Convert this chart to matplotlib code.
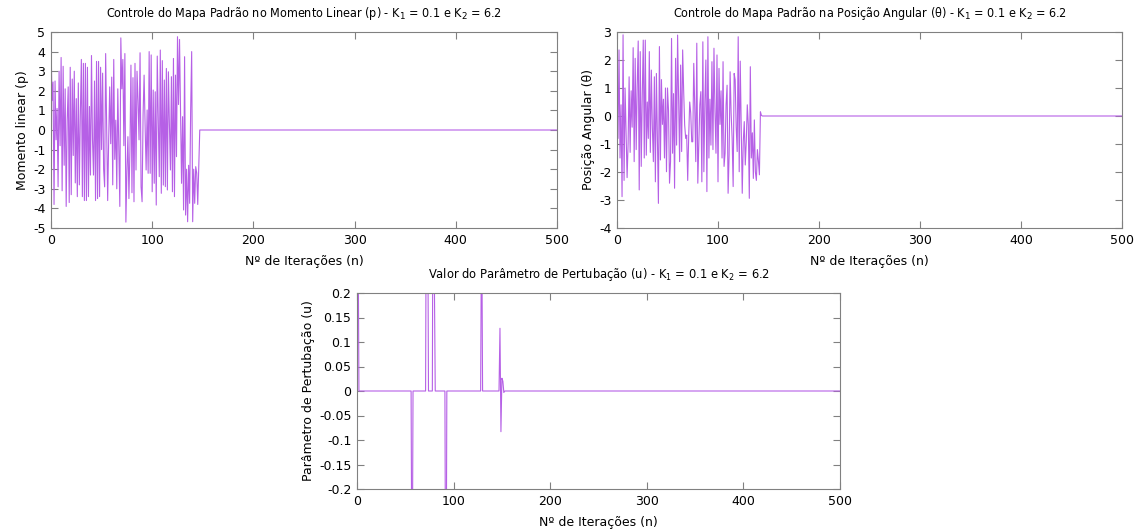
import numpy as np
import matplotlib
matplotlib.use("Agg")
import matplotlib.pyplot as plt
from matplotlib.ticker import MultipleLocator, FuncFormatter

plt.rcParams['axes.unicode_minus'] = False
plt.rcParams['font.family'] = ['DejaVu Sans']

N = 501  # iterations 0..500

# momento linear p (iterations 0..147), zero afterwards
p_active = [4.6, 1.5, 2.45, -3.8, 2.5, -0.5, 1.1, -2.9, 3.0, -0.8,
            3.7, -3.1, 3.25, -1.8, 2.1, -3.9, 0.5, 2.2, -3.7, 3.2,
            -3.3, 2.6, -1.3, 3.0, -2.7, 1.6, -3.4, 2.4, -2.8, 0.8,
            3.6, -3.4, 3.4, -3.6, 3.4, -3.6, 3.2, -3.4, 1.2, -2.3,
            3.8, -0.5, -2.3, 2.5, -3.6, 3.5, -3.5, 3.5, -3.4, 3.2,
            -1.0, 2.9, -2.0, -2.9, 3.9, 0.3, -3.6, -0.5, 2.2, -0.7,
            2.7, -2.8, 3.6, -1.5, 0.5, -3.0, 2.1, -1.0, -3.9, 4.7,
            2.1, 3.6, -0.8, 3.9, -4.7,
            -2.1, -0.34, -3.5, -1.0, 3.31, -3.2, 2.67, -3.66, 3.4, -2.04,
            3.0, 1.5, -0.5, 3.94, -2.89, -3.66, 0.8, 2.8, 0.2, -2.04,
            1.02, -2.21, 4.0, -2.21, 3.83, -3.15, 2.04, -2.72, 1.95, -3.83,
            3.77, 0.5, -2.38, 4.08, -3.23, 3.54, -2.81, 2.55, -2.89, 3.14,
            -3.06, 2.97, 0.3, -2.04, 2.72, -3.15, 3.65, -3.4, 2.8, -1.36,
            4.76, 1.3, 4.62, 1.0, -2.72, 0.68, -4.08, 3.74, -4.34, -2.0,
            -4.68, -1.8, -3.74, 1.0, 4.0, -4.68, -2.0, -3.74, -1.87, -2.2,
            -3.8, -1.8, 0.0]

# posicao angular theta
theta_active = [1.3, -0.8, 2.36, -1.5, 0.4,
                -2.88, 2.9, -2.3, 1.0, -0.6,
                -2.2, -0.98, 1.4, -1.3, 0.9, -0.4,
                2.44, -1.63, 2.06, -1.2, 1.1,
                2.68, -2.64, 2.3, -1.8, 0.7,
                2.71, -1.5, 2.71, -1.4, 0.5,
                -0.8, 2.3, -1.3, 1.64, -0.4,
                -1.63, 1.4, -2.35, 1.52, -0.9,
                -3.12, 2.48, -1.57, 1.3, -0.3, 0.6,
                -1.5, 1.0, -1.99, 1.0, 0.2,
                -2.4, -1.63, 2.77, -1.33, 0.8,
                -2.58, 2.06, -1.04, 2.89, 0.6,
                -1.63, 1.82, -1.27, 2.36, 0.9,
                -0.32, -0.8, -0.68, -2.3, -0.7, 0.5,
                0.1, -0.92, -0.92, 1.88, 0.3,
                -1.63, 2.6, -2.4, -1.04, 0.4,
                0.87, -2.35, 2.65, -1.99, 0.5,
                2.0, -2.7, 2.83, -1.5, 0.6,
                -1.04, 1.94, -1.2, 2.42, 0.2,
                -1.33, 2.18, -2.35, 1.7, -0.3, 0.9,
                -1.5, 1.94, -1.8, -1.33, 0.4,
                1.1, -2.76, -1.4, 1.58, 0.1,
                -0.8, -2.52, 1.52, 1.29, -0.4,
                -1.27, 2.83, -1.99, 1.96, -0.5,
                -2.76, -0.92, -0.2, -1.75, -0.9, 0.4,
                -0.32, -2.94, 1.76, -1.5, -0.6,
                -2.23, -0.14, -2.0, -2.3, -1.2,
                -1.6, -2.1, 0.15, 0.02]

# parametro de perturbacao u (nonzero only at a few iterations)
u_idx = [1, 57, 72, 73, 79, 80, 92, 129, 148, 149, 150, 151, 152]
u_val = [0.4, -0.5, 0.6, 0.5, 0.7, 0.25, -0.6, 0.4, 0.128, -0.083, 0.026, 0.02, -0.003]

n = np.arange(N)
p = np.array(p_active + [0.0] * (N - len(p_active)))
theta = np.array(theta_active + [0.0] * (N - len(theta_active)))
u = np.zeros(N)
u[u_idx] = u_val

color = '#b660e6'
W, H = 1144, 531
fig = plt.figure(figsize=(W / 100, H / 100), dpi=100)


def make_ax(x0, x1, y0, y1):
    ax = fig.add_axes([x0 / W, 1 - y1 / H, (x1 - x0) / W, (y1 - y0) / H])
    for s in ax.spines.values():
        s.set_color('#808080')
        s.set_linewidth(0.8)
    ax.tick_params(direction='in', top=True, right=True, length=5,
                   color='#808080', labelsize=9, pad=4)
    ax.set_xlim(0, 500)
    ax.xaxis.set_major_locator(MultipleLocator(100))
    return ax


title_font = dict(fontsize=9, fontstretch='condensed')

ax1 = make_ax(51, 557, 32, 228)
ax1.plot(n, p, color=color, lw=0.8)
ax1.set_ylim(-5, 5)
ax1.yaxis.set_major_locator(MultipleLocator(1))
ax1.set_ylabel('Momento linear (p)', fontsize=9, labelpad=3)
ax1.set_xlabel('Nº de Iterações (n)', fontsize=9, labelpad=6)
ax1.set_title('Controle do Mapa Padrão no Momento Linear (p) - K$_1$ = 0.1 e K$_2$ = 6.2',
              pad=11, **title_font)

ax2 = make_ax(617, 1122, 32, 228)
ax2.plot(n, theta, color=color, lw=0.8)
ax2.set_ylim(-4, 3)
ax2.yaxis.set_major_locator(MultipleLocator(1))
ax2.set_ylabel('Posição Angular (θ)', fontsize=9, labelpad=3)
ax2.set_xlabel('Nº de Iterações (n)', fontsize=9, labelpad=6)
ax2.set_title('Controle do Mapa Padrão na Posição Angular (θ) - K$_1$ = 0.1 e K$_2$ = 6.2',
              pad=11, **title_font)

ax3 = make_ax(357, 840, 293, 489)
ax3.plot(n, u, color=color, lw=0.8)
ax3.set_ylim(-0.2, 0.2)
ax3.yaxis.set_major_locator(MultipleLocator(0.05))
ax3.yaxis.set_major_formatter(FuncFormatter(lambda v, pos: '%g' % round(v, 2)))
ax3.set_ylabel('Parâmetro de Pertubação (u)', fontsize=9, labelpad=3)
ax3.set_xlabel('Nº de Iterações (n)', fontsize=9, labelpad=6)
ax3.set_title('Valor do Parâmetro de Pertubação (u) - K$_1$ = 0.1 e K$_2$ = 6.2',
              fontsize=8.3, pad=11)

fig.savefig('out.png', dpi=100)
